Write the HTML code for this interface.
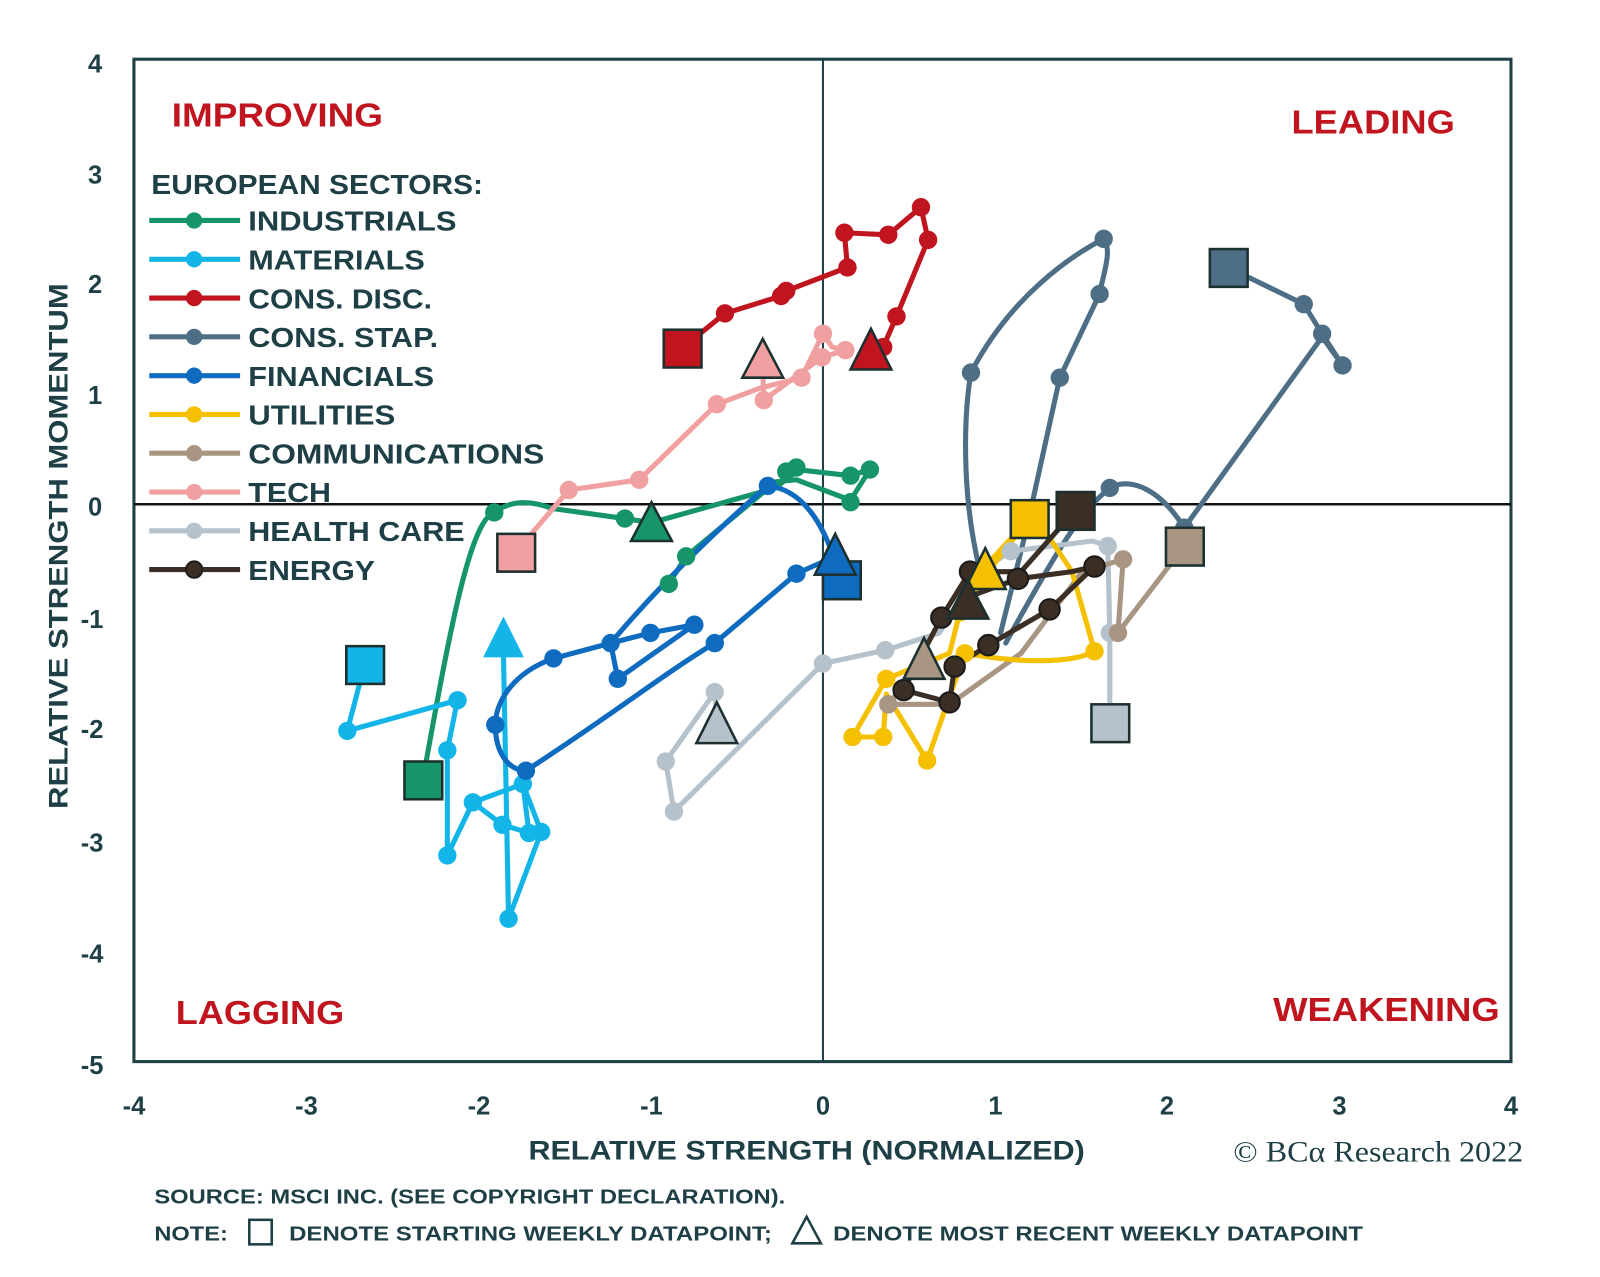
<!DOCTYPE html>
<html><head><meta charset="utf-8"><style>
html,body{margin:0;padding:0;background:#fff;}
svg{display:block;}
text{font-family:"Liberation Sans",sans-serif;}
text.serif{font-family:"Liberation Serif",serif;}
</style></head><body>
<svg width="1600" height="1277" viewBox="0 0 1567 1251" xmlns="http://www.w3.org/2000/svg">
<rect width="1567" height="1251" fill="#fff"/>
<g stroke="#1d3f45" fill="none">
<rect x="131" y="58" width="1349" height="982" stroke-width="3"/>
<line x1="806" y1="58" x2="806" y2="1040" stroke-width="2"/>
<line x1="131" y1="494" x2="1480" y2="494" stroke-width="2.5" stroke="#111"/>
</g>
<g fill="#1d3f45" font-weight="bold" font-size="25" text-anchor="middle">
<text x="93" y="71">4</text><text x="93" y="180">3</text><text x="93" y="287">2</text><text x="93" y="396">1</text><text x="93" y="505">0</text><text x="90" y="615">-1</text><text x="90" y="723">-2</text><text x="90" y="834">-3</text><text x="90" y="943">-4</text><text x="90" y="1052">-5</text>
<text x="131" y="1092">-4</text><text x="300" y="1092">-3</text><text x="469" y="1092">-2</text><text x="638" y="1092">-1</text><text x="806" y="1092">0</text><text x="975" y="1092">1</text><text x="1143" y="1092">2</text><text x="1312" y="1092">3</text><text x="1480" y="1092">4</text>
<text x="790" y="1136" font-size="26" textLength="545" lengthAdjust="spacingAndGlyphs">RELATIVE STRENGTH (NORMALIZED)</text>
<text transform="translate(66,535) rotate(-90)" font-size="26" textLength="515" lengthAdjust="spacingAndGlyphs">RELATIVE STRENGTH MOMENTUM</text>
</g>
<text class="serif" x="1208" y="1138" font-size="29" fill="#1d3f45" textLength="284" lengthAdjust="spacingAndGlyphs">© BCα Research 2022</text>
<g fill="#1d3f45" font-weight="bold" font-size="20">
<text x="151" y="1179" textLength="618" lengthAdjust="spacingAndGlyphs">SOURCE: MSCI INC. (SEE COPYRIGHT DECLARATION).</text>
<text x="151" y="1215" textLength="72" lengthAdjust="spacingAndGlyphs">NOTE:</text>
<text x="283" y="1215" textLength="473" lengthAdjust="spacingAndGlyphs">DENOTE STARTING WEEKLY DATAPOINT;</text>
<text x="816" y="1215" textLength="519" lengthAdjust="spacingAndGlyphs">DENOTE MOST RECENT WEEKLY DATAPOINT</text>
</g>
<rect x="244" y="1195" width="22" height="24" fill="none" stroke="#1d3f45" stroke-width="2.5"/>
<polygon points="790,1192 776,1218 804,1218" fill="none" stroke="#1d3f45" stroke-width="2.5"/>
<g fill="#c0141f" font-size="33" font-weight="bold">
<text x="168" y="124" textLength="207" lengthAdjust="spacingAndGlyphs">IMPROVING</text>
<text x="1265" y="131" textLength="160" lengthAdjust="spacingAndGlyphs">LEADING</text>
<text x="172" y="1003" textLength="165" lengthAdjust="spacingAndGlyphs">LAGGING</text>
<text x="1247" y="1000" textLength="222" lengthAdjust="spacingAndGlyphs">WEAKENING</text>
</g>
<g font-weight="bold" font-size="27" fill="#1d3f45">
<text x="148" y="190" textLength="325" lengthAdjust="spacingAndGlyphs">EUROPEAN SECTORS:</text>
<text x="243" y="226" textLength="204" lengthAdjust="spacingAndGlyphs">INDUSTRIALS</text>
<text x="243" y="264" textLength="173" lengthAdjust="spacingAndGlyphs">MATERIALS</text>
<text x="243" y="302" textLength="180" lengthAdjust="spacingAndGlyphs">CONS. DISC.</text>
<text x="243" y="340" textLength="186" lengthAdjust="spacingAndGlyphs">CONS. STAP.</text>
<text x="243" y="378" textLength="182" lengthAdjust="spacingAndGlyphs">FINANCIALS</text>
<text x="243" y="416" textLength="144" lengthAdjust="spacingAndGlyphs">UTILITIES</text>
<text x="243" y="454" textLength="290" lengthAdjust="spacingAndGlyphs">COMMUNICATIONS</text>
<text x="243" y="492" textLength="81" lengthAdjust="spacingAndGlyphs">TECH</text>
<text x="243" y="530" textLength="212" lengthAdjust="spacingAndGlyphs">HEALTH CARE</text>
<text x="243" y="568" textLength="124" lengthAdjust="spacingAndGlyphs">ENERGY</text>
</g>
<g stroke-width="5">
<line x1="146" x2="235" y1="216" y2="216" stroke="#16956b"/><circle cx="190" cy="216" r="8" fill="#16956b"/>
<line x1="146" x2="235" y1="254" y2="254" stroke="#13b5e8"/><circle cx="190" cy="254" r="8" fill="#13b5e8"/>
<line x1="146" x2="235" y1="292" y2="292" stroke="#c0141f"/><circle cx="190" cy="292" r="8" fill="#c0141f"/>
<line x1="146" x2="235" y1="330" y2="330" stroke="#4d6e85"/><circle cx="190" cy="330" r="8" fill="#4d6e85"/>
<line x1="146" x2="235" y1="368" y2="368" stroke="#0f6bbf"/><circle cx="190" cy="368" r="8" fill="#0f6bbf"/>
<line x1="146" x2="235" y1="406" y2="406" stroke="#f5c000"/><circle cx="190" cy="406" r="8" fill="#f5c000"/>
<line x1="146" x2="235" y1="444" y2="444" stroke="#a89582"/><circle cx="190" cy="444" r="8" fill="#a89582"/>
<line x1="146" x2="235" y1="482" y2="482" stroke="#f0a0a0"/><circle cx="190" cy="482" r="8" fill="#f0a0a0"/>
<line x1="146" x2="235" y1="520" y2="520" stroke="#b5c2cc"/><circle cx="190" cy="520" r="8" fill="#b5c2cc"/>
<line x1="146" x2="235" y1="558" y2="558" stroke="#3b2e25"/><circle cx="190" cy="558" r="8" fill="#3b2e25" stroke="#1d1d1d" stroke-width="2"/>
</g>
<g fill="none" stroke-width="5" stroke-linejoin="round" stroke-linecap="round">
<path stroke="#4d6e85" d="M1203,262 L1277,298 L1295,327 L1315,358 L1295,330 L1160,517 C1130,470 1100,470 1087,478 C1060,500 1040,530 985,630 M960,560 C940,480 945,400 951,365 C990,290 1050,250 1081,234 C1090,245 1080,270 1077,288 L1038,370 L1005,520 L980,620"/>
<path stroke="#b5c2cc" d="M1087,708 L1087,620 L1085,535 L1070,530 L990,540 L960,560 L920,620 L867,637 L806,650 L660,795 L652,746 L700,678 L702,705"/>
<path stroke="#a89582" d="M1160,535 L1095,620 L1100,548 L1060,560 L1000,640 L930,690 L870,690 L905,645"/>
<path stroke="#f5c000" d="M1008,508 L960,570 L940,600 L930,640 L868,665 L835,722 L865,722 L868,680 L908,745 L945,640 C1000,650 1050,650 1072,638 L1050,560 L1030,530 L1008,508 L965,555"/>
<path stroke="#3b2e25" d="M1053,500 L1000,560 L950,560 L922,605 L885,676 L930,688 L935,653 L968,632 L1028,597 L1072,555 L1050,560 L997,567 L948,585"/>
<path stroke="#16956b" d="M414,764 C440,620 460,510 484,502 C500,490 520,490 540,498 L612,508 L638,512 L760,478 L780,460 L833,466 L852,460 L833,490 L780,470 L760,472 L672,545 L655,572"/>
<path stroke="#13b5e8" d="M357,651 L340,716 L448,686 L438,735 L438,838 L463,786 L492,808 L518,816 L512,768 L463,786 M512,768 L530,815 L498,900 L493,640"/>
<path stroke="#c0141f" d="M668,341 L710,307 L765,290 L770,285 L830,262 L827,228 L870,230 L902,203 L909,235 L878,310 L865,340 L853,343"/>
<path stroke="#0f6bbf" d="M824,568 C810,520 790,480 752,476 C700,520 640,580 598,630 L605,665 L680,612 L637,620 L598,630 L542,645 C500,660 485,690 485,710 C485,740 500,755 515,755 C600,700 650,660 700,630 L780,562 L818,545"/>
<path stroke="#f0a0a0" d="M505,541 L557,480 L626,470 L702,396 L745,380 L785,370 L806,327 L815,340 L828,343 L805,350 L748,392 L747,360"/>
</g>
<g>
<g fill="#4d6e85"><circle cx="951" cy="365" r="9"/><circle cx="1081" cy="234" r="9"/><circle cx="1077" cy="288" r="9"/><circle cx="1038" cy="370" r="9"/><circle cx="1087" cy="478" r="9"/><circle cx="1160" cy="517" r="9"/><circle cx="1277" cy="298" r="9"/><circle cx="1295" cy="327" r="9"/><circle cx="1315" cy="358" r="9"/></g>
<g fill="#b5c2cc"><circle cx="1087" cy="620" r="9"/><circle cx="1085" cy="535" r="9"/><circle cx="990" cy="540" r="9"/><circle cx="867" cy="637" r="9"/><circle cx="806" cy="650" r="9"/><circle cx="660" cy="795" r="9"/><circle cx="652" cy="746" r="9"/><circle cx="700" cy="678" r="9"/></g>
<g fill="#a89582"><circle cx="1095" cy="620" r="9"/><circle cx="1100" cy="548" r="9"/><circle cx="870" cy="690" r="9"/><circle cx="930" cy="690" r="9"/></g>
<g fill="#f5c000"><circle cx="868" cy="665" r="9"/><circle cx="835" cy="722" r="9"/><circle cx="865" cy="722" r="9"/><circle cx="908" cy="745" r="9"/><circle cx="945" cy="640" r="9"/><circle cx="1072" cy="638" r="9"/><circle cx="940" cy="600" r="9"/></g>
<g fill="#3b2e25" stroke="#1a1a1a" stroke-width="2"><circle cx="950" cy="560" r="10"/><circle cx="922" cy="605" r="10"/><circle cx="885" cy="676" r="10"/><circle cx="930" cy="688" r="10"/><circle cx="935" cy="653" r="10"/><circle cx="968" cy="632" r="10"/><circle cx="1028" cy="597" r="10"/><circle cx="1072" cy="555" r="10"/><circle cx="997" cy="567" r="10"/></g>
<g fill="#16956b"><circle cx="484" cy="502" r="9"/><circle cx="612" cy="508" r="9"/><circle cx="655" cy="572" r="9"/><circle cx="672" cy="545" r="9"/><circle cx="770" cy="462" r="9"/><circle cx="780" cy="458" r="9"/><circle cx="833" cy="466" r="9"/><circle cx="852" cy="460" r="9"/><circle cx="833" cy="492" r="9"/></g>
<g fill="#13b5e8"><circle cx="340" cy="716" r="9"/><circle cx="448" cy="686" r="9"/><circle cx="438" cy="735" r="9"/><circle cx="438" cy="838" r="9"/><circle cx="463" cy="786" r="9"/><circle cx="492" cy="808" r="9"/><circle cx="518" cy="816" r="9"/><circle cx="530" cy="815" r="9"/><circle cx="512" cy="768" r="9"/><circle cx="498" cy="900" r="9"/></g>
<g fill="#c0141f"><circle cx="710" cy="307" r="9"/><circle cx="765" cy="290" r="9"/><circle cx="770" cy="285" r="9"/><circle cx="830" cy="262" r="9"/><circle cx="827" cy="228" r="9"/><circle cx="870" cy="230" r="9"/><circle cx="902" cy="203" r="9"/><circle cx="909" cy="235" r="9"/><circle cx="878" cy="310" r="9"/><circle cx="865" cy="340" r="9"/></g>
<g fill="#0f6bbf"><circle cx="752" cy="476" r="9"/><circle cx="598" cy="630" r="9"/><circle cx="637" cy="620" r="9"/><circle cx="680" cy="612" r="9"/><circle cx="605" cy="665" r="9"/><circle cx="542" cy="645" r="9"/><circle cx="485" cy="710" r="9"/><circle cx="515" cy="755" r="9"/><circle cx="700" cy="630" r="9"/><circle cx="780" cy="562" r="9"/></g>
<g fill="#f0a0a0"><circle cx="557" cy="480" r="9"/><circle cx="626" cy="470" r="9"/><circle cx="702" cy="396" r="9"/><circle cx="748" cy="392" r="9"/><circle cx="785" cy="370" r="9"/><circle cx="806" cy="327" r="9"/><circle cx="828" cy="343" r="9"/><circle cx="805" cy="350" r="9"/></g>
</g>
<g stroke="#1d3030" stroke-width="2.5">
<rect x="1185" y="244" width="37" height="37" fill="#4d6e85"/>
<rect x="1069" y="690" width="37" height="37" fill="#b5c2cc"/>
<rect x="1142" y="517" width="37" height="37" fill="#a89582"/>
<rect x="990" y="490" width="37" height="37" fill="#f5c000"/>
<rect x="1035" y="482" width="37" height="37" fill="#3b2e25"/>
<rect x="396" y="746" width="37" height="37" fill="#16956b"/>
<rect x="339" y="633" width="37" height="37" fill="#13b5e8"/>
<rect x="650" y="323" width="37" height="37" fill="#c0141f"/>
<rect x="806" y="550" width="37" height="37" fill="#0f6bbf"/>
<rect x="487" y="523" width="37" height="37" fill="#f0a0a0"/>
<polygon points="702,688 682,728 722,728" fill="#b5c2cc"/>
<polygon points="905,625 885,665 925,665" fill="#a89582"/>
<polygon points="965,537 945,577 985,577" fill="#f5c000"/>
<polygon points="948,568 928,606 968,606" fill="#3b2e25"/>
<polygon points="638,492 618,530 658,530" fill="#16956b"/>
<polygon points="493,604 473,644 513,644" fill="#13b5e8" stroke="none"/>
<polygon points="853,322 833,362 873,362" fill="#c0141f"/>
<polygon points="818,523 798,563 838,563" fill="#0f6bbf"/>
<polygon points="747,332 727,370 767,370" fill="#f0a0a0"/>
</g>
</svg>
</body></html>
